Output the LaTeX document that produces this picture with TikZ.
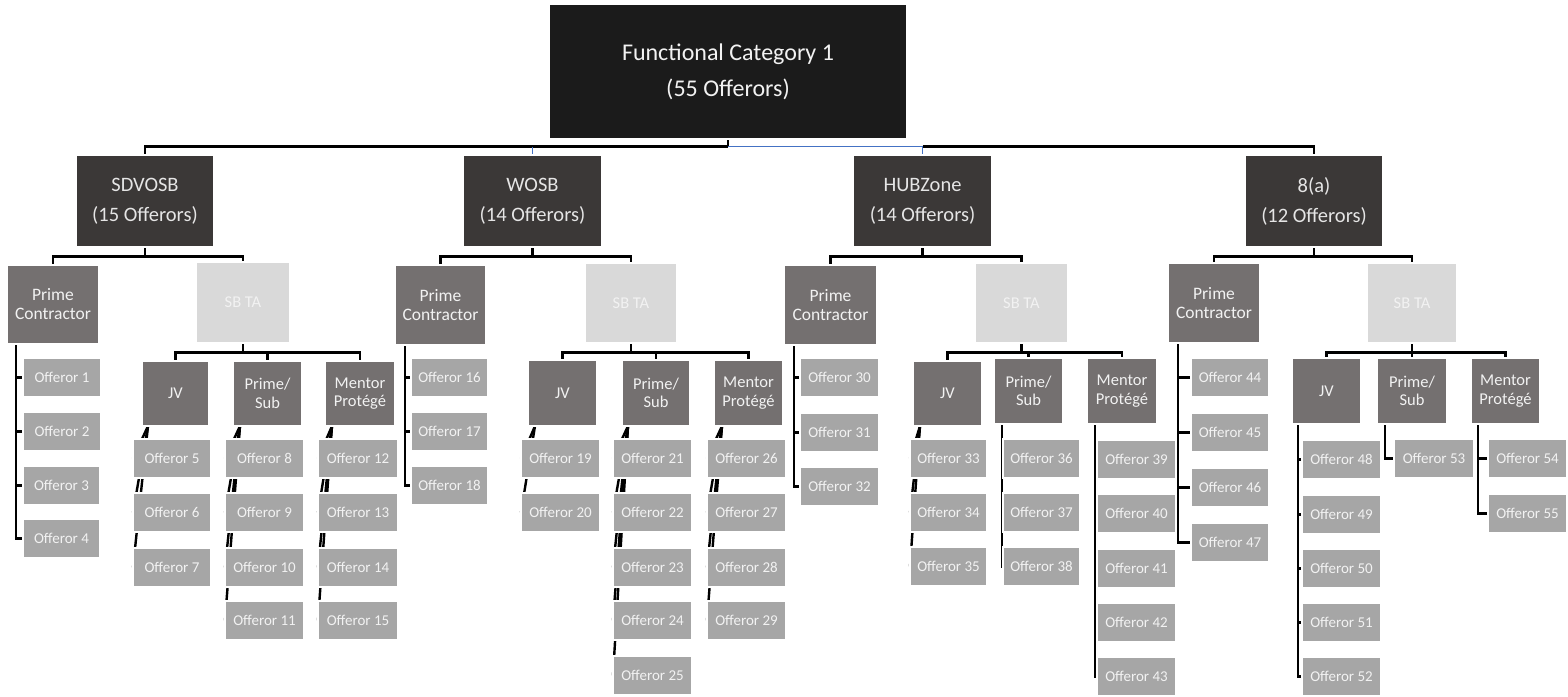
\documentclass[tikz,border=0pt]{standalone}
\usepackage{fontspec}
\setmainfont{Carlito}
\usetikzlibrary{calc}
\definecolor{topfill}{HTML}{1B1B1B}
\definecolor{catfill}{HTML}{3B3837}
\definecolor{midfill}{HTML}{747070}
\definecolor{lightfill}{HTML}{D9D9D9}
\definecolor{offfill}{HTML}{A6A6A6}
\definecolor{boxtext}{HTML}{F2F2F2}
\definecolor{rim}{HTML}{D0D0D0}
\definecolor{linkblue}{HTML}{4472C4}
\pgfdeclarelayer{background}
\pgfsetlayers{background,main}

\tikzset{
  box/.style={draw=rim, double=white, double distance=1.4pt, line width=0.5pt,
    inner sep=0pt, outer sep=0pt, align=center, text=boxtext},
  topbox/.style={box, fill=topfill, font=\fontsize{24}{30}\selectfont},
  catbox/.style={box, fill=catfill, text=white!90!black, font=\fontsize{20.5}{30}\selectfont},
  primebox/.style={box, fill=midfill, font=\fontsize{17.5}{19}\selectfont},
  tabox/.style={box, fill=lightfill, font=\fontsize{16.5}{19}\selectfont},
  kindbox/.style={box, fill=midfill, font=\fontsize{16.5}{18.5}\selectfont},
  offbox/.style={box, fill=offfill, font=\fontsize{15}{16}\selectfont},
  link/.style={line width=2.8pt, line join=miter, draw=black},
  bluelink/.style={line width=1.5pt, draw=linkblue},
  slantlink/.style={line width=2.4pt, draw=black},
}

% box given by its corners (x1,y1)-(x2,y2), y growing downwards
\newcommand\bx[7]{\node[#1, minimum width={(#5-#3)*1pt}, minimum height={(#6-#4)*1pt}]
  (#2) at ({(#3+#5)/2},{(#4+#6)/2}) {#7};}
% offeror box: name, left, right, top, number
\newcommand\offr[5]{\bx{offbox}{#1}{#2}{#4}{#3}{#4+39}{Offeror #5}}

\begin{document}
\begin{tikzpicture}[x=1pt,y=-1pt]
\useasboundingbox (0,0) rectangle (1568,696);

% ---- top and categories
\bx{topbox}{top}{549}{4}{907}{139}{Functional Category 1\\[6pt](55 Offerors)}
\bx{catbox}{sd}{76}{155}{214}{247}{SDVOSB\\(15 Offerors)}
\bx{catbox}{wo}{463}{155}{602}{247}{WOSB\\(14 Offerors)}
\bx{catbox}{hub}{853}{155}{992}{247}{HUBZone\\(14 Offerors)}
\bx{catbox}{ea}{1245}{155}{1383}{247}{8(a)\\(12 Offerors)}

% ---- SDVOSB branch
\bx{primebox}{pcA}{7}{265}{99}{344}{Prime\\Contractor}
\bx{tabox}{sbA}{196}{262}{290}{343}{SB TA}
\bx{kindbox}{jvA}{142}{361}{209}{426}{JV}
\bx{kindbox}{psA}{233}{361}{302}{426}{Prime/\\Sub}
\bx{kindbox}{mpA}{325}{361}{395}{426}{Mentor\\Protégé}
\offr{o1}{23}{101}{358}{1}
\offr{o2}{23}{101}{412}{2}
\offr{o3}{23}{100}{466}{3}
\offr{o4}{23}{100}{519}{4}
\offr{o5}{133}{211}{439}{5}
\offr{o6}{133}{211}{493}{6}
\offr{o7}{133}{211}{548}{7}
\offr{o8}{225}{304}{439}{8}
\offr{o9}{225}{304}{493}{9}
\offr{o10}{225}{304}{548}{10}
\offr{o11}{225}{304}{601}{11}
\offr{o12}{318}{398}{439}{12}
\offr{o13}{318}{398}{493}{13}
\offr{o14}{318}{398}{548}{14}
\offr{o15}{318}{398}{601}{15}

% ---- WOSB branch
\bx{primebox}{pcB}{395}{265}{486}{345}{Prime\\Contractor}
\bx{tabox}{sbB}{585}{263}{677}{343}{SB TA}
\bx{kindbox}{jvB}{528}{360}{597}{426}{JV}
\bx{kindbox}{psB}{622}{360}{690}{426}{Prime/\\Sub}
\bx{kindbox}{mpB}{714}{360}{783}{426}{Mentor\\Protégé}
\offr{o16}{411}{488}{358}{16}
\offr{o17}{411}{488}{412}{17}
\offr{o18}{411}{488}{466}{18}
\offr{o19}{521}{600}{439}{19}
\offr{o20}{521}{600}{493}{20}
\offr{o21}{613}{692}{439}{21}
\offr{o22}{613}{692}{493}{22}
\offr{o23}{613}{692}{548}{23}
\offr{o24}{613}{692}{601}{24}
\offr{o25}{613}{692}{656}{25}
\offr{o26}{707}{786}{439}{26}
\offr{o27}{707}{786}{493}{27}
\offr{o28}{707}{786}{548}{28}
\offr{o29}{707}{786}{601}{29}

% ---- HUBZone branch
\bx{primebox}{pcC}{784}{265}{877}{345}{Prime\\Contractor}
\bx{tabox}{sbC}{975}{263}{1068}{343}{SB TA}
\bx{kindbox}{jvC}{913}{361}{982}{426}{JV}
\bx{kindbox}{psC}{994}{358}{1063}{424}{Prime/\\Sub}
\bx{kindbox}{mpC}{1087}{358}{1157}{424}{Mentor\\Protégé}
\offr{o30}{800}{879}{358}{30}
\offr{o31}{800}{879}{413}{31}
\offr{o32}{800}{879}{467}{32}
\offr{o33}{910}{987}{439}{33}
\offr{o34}{910}{987}{493}{34}
\offr{o35}{910}{987}{547}{35}
\offr{o36}{1003}{1080}{439}{36}
\offr{o37}{1003}{1080}{493}{37}
\offr{o38}{1003}{1080}{547}{38}
\offr{o39}{1097}{1176}{440}{39}
\offr{o40}{1097}{1176}{494}{40}
\offr{o41}{1097}{1176}{549}{41}
\offr{o42}{1097}{1176}{603}{42}
\offr{o43}{1097}{1176}{657}{43}

% ---- 8(a) branch
\bx{primebox}{pcD}{1168}{263}{1260}{343}{Prime\\Contractor}
\bx{tabox}{sbD}{1367}{263}{1457}{343}{SB TA}
\bx{kindbox}{jvD}{1292}{358}{1361}{424}{JV}
\bx{kindbox}{psD}{1377}{358}{1447}{424}{Prime/\\Sub}
\bx{kindbox}{mpD}{1471}{358}{1540}{424}{Mentor\\Protégé}
\offr{o44}{1191}{1269}{358}{44}
\offr{o45}{1191}{1269}{413}{45}
\offr{o46}{1191}{1269}{468}{46}
\offr{o47}{1191}{1269}{523}{47}
\offr{o48}{1302}{1381}{440}{48}
\offr{o49}{1302}{1381}{495}{49}
\offr{o50}{1302}{1381}{549}{50}
\offr{o51}{1302}{1381}{603}{51}
\offr{o52}{1302}{1381}{657}{52}
\offr{o53}{1394}{1474}{439}{53}
\offr{o54}{1488}{1567}{439}{54}
\offr{o55}{1488}{1567}{494}{55}

% ---- connectors, kept behind the boxes
\begin{pgfonlayer}{background}
  \coordinate (bus) at ($(top.south)+(0,7.5)$);
  \draw[link] (top.south) -- (bus);
  \draw[link] (bus) -| (sd.north);
  \draw[link] (hub.north |- bus) -| (ea.north);
  \draw[bluelink] (bus) -| (hub.north);
  \draw[bluelink] (wo.north |- bus) -- (wo.north);

  % category -> prime contractor / SB TA
  \foreach \p/\c in {sd/pcA, sd/sbA, wo/pcB, wo/sbB, hub/pcC, hub/sbC, ea/pcD, ea/sbD}
    \draw[link] (\p.south) -- ++(0,9.5) -| (\c.north);
  % SB TA -> JV, Prime/Sub, Mentor Protege
  \foreach \p/\c in {sbA/jvA, sbA/psA, sbA/mpA, sbB/jvB, sbB/psB, sbB/mpB,
                     sbC/jvC, sbC/psC, sbC/mpC, sbD/jvD, sbD/psD, sbD/mpD}
    \draw[link] (\p.south) -- ++(0,9.5) -| (\c.north);

  % hanging lists with a straight spine
  \foreach \p/\d/\c in {pcA/9/o1, pcA/9/o2, pcA/9/o3, pcA/9/o4,
                        pcB/10/o16, pcB/10/o17, pcB/10/o18,
                        pcC/10/o30, pcC/10/o31, pcC/10/o32,
                        psC/8/o36, psC/8/o37, psC/8/o38,
                        mpC/8/o39, mpC/8/o40, mpC/8/o41, mpC/8/o42, mpC/8/o43,
                        pcD/10/o44, pcD/10/o45, pcD/10/o46, pcD/10/o47,
                        jvD/6/o48, jvD/6/o49, jvD/6/o50, jvD/6/o51, jvD/6/o52,
                        psD/8/o53, mpD/7/o54, mpD/7/o55}
    \draw[link] ($(\p.south west)+(\d,0)$) |- (\c.west);

  % hanging lists drawn as straight slanted links
  \foreach \p/\d/\c in {jvA/6/o5, jvA/6/o6, jvA/6/o7,
                        psA/7/o8, psA/7/o9, psA/7/o10, psA/7/o11,
                        mpA/7/o12, mpA/7/o13, mpA/7/o14, mpA/7/o15,
                        jvB/7/o19, jvB/7/o20,
                        psB/6/o21, psB/6/o22, psB/6/o23, psB/6/o24, psB/6/o25,
                        mpB/8/o26, mpB/8/o27, mpB/8/o28, mpB/8/o29,
                        jvC/7/o33, jvC/7/o34, jvC/7/o35}
    \draw[slantlink] ($(\p.south west)+(\d,0)$) -- (\c.west);
\end{pgfonlayer}
\end{tikzpicture}
\end{document}
